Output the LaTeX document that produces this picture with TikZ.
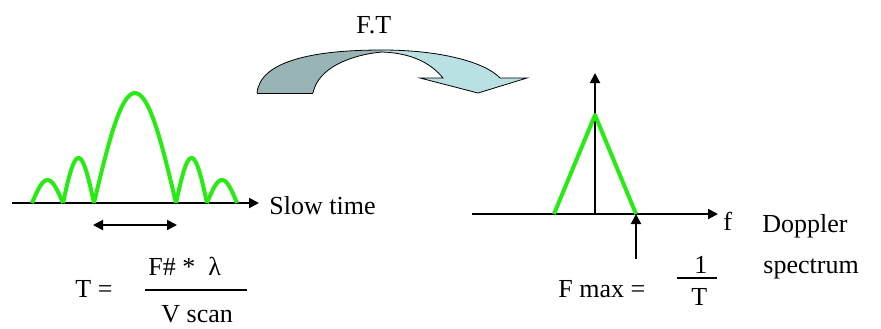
\documentclass[tikz,border=0pt]{standalone}
\usepackage{fontspec}
\setmainfont{Liberation Serif}
\usetikzlibrary{arrows.meta}
\definecolor{lobegreen}{RGB}{40,235,20}
\definecolor{ftdark}{RGB}{152,180,182}
\definecolor{ftlight}{RGB}{185,224,227}

\begin{document}
\begin{tikzpicture}[x=0.5pt, y=-0.5pt,
        axis/.style={line width=1pt, -{Triangle[length=5pt, width=5pt]}},
        lobe/.style={line width=2pt, draw=lobegreen, line join=round},
        lbl/.style={font=\fontsize{13}{15}\selectfont, inner sep=0pt, anchor=base west},
        band/.style={draw=black, line width=0.4pt}]
        \useasboundingbox (0,0) rectangle (881,328);

        % Slow time
        \coordinate (t0) at (12,203);
        \coordinate (t1) at (259,203);
        \draw[axis] (t0) -- (t1);
        \foreach \a/\b/\h in {32/63/23, 63/94/45, 94/176/110, 176/207/45, 207/237/23}
            \draw[lobe] plot[domain=0:1, samples=30, smooth] ({\a+(\b-\a)*\x}, {203-\h*sin(180*\x)});
        \coordinate (pa) at (93,225);
        \coordinate (pb) at (177,225);
        \draw[line width=1pt, {Triangle[length=5pt, width=5pt]}-{Triangle[length=5pt, width=5pt]}] (pa) -- (pb);
        \node[lbl] (slow) at (269,214) {Slow time};

        % T formula
        \node[lbl] (teq) at (75,297) {T =};
        \node[lbl] (num) at (148,275) {F\# *\ \ λ};
        \node[lbl] (den) at (161,322) {V scan};
        \coordinate (ba) at (145,290);
        \coordinate (bb) at (247,290);
        \draw[line width=0.6pt] (ba) -- (bb);

        % F.T arrow
        \node[lbl] (ft) at (356,33) {F.T};
        \fill[ftdark] (257,93) -- (313,93) .. controls (318,68) and (350,55) .. (382,52)
            -- (382,50) .. controls (310,50) and (260,62) .. (257,93) -- cycle;
        \draw[band] (257,93) .. controls (260,62) and (310,50) .. (382,50);
        \draw[band] (313,93) .. controls (318,68) and (350,55) .. (382,52);
        \draw[band] (257,93) -- (313,93);
        \filldraw[band, fill=ftlight] (382,50) .. controls (440,50) and (485,62) .. (500,78)
            -- (527,78) -- (478,93) -- (420,78) -- (443,78)
            .. controls (430,62) and (410,53) .. (382,52);

        % Doppler spectrum
        \coordinate (f0) at (472,214);
        \coordinate (f1) at (718,214);
        \coordinate (fc) at (595,214);
        \coordinate (fup) at (595,73);
        \draw[axis] (f0) -- (f1);
        \draw[axis] (fc) -- (fup);
        \coordinate (gl) at (554,214);
        \coordinate (gp) at (595,115);
        \coordinate (gr) at (636,214);
        \draw[lobe] (gl) -- (gp) -- (gr);
        \coordinate (mk) at (636,259);
        \draw[axis] (mk) -- (gr);
        \node[lbl] (f) at (723,230) {f};
        \node[lbl] (dop) at (762,232) {Doppler};
        \node[lbl] (spec) at (763,273) {spectrum};

        % F max formula
        \node[lbl] (fmax) at (558,297) {F max =};
        \node[lbl] (one) at (694,273) {1};
        \node[lbl] (tt) at (691,305) {T};
        \coordinate (ca) at (677,278);
        \coordinate (cb) at (717,278);
        \draw[line width=0.6pt] (ca) -- (cb);
    \end{tikzpicture}
\end{document}
